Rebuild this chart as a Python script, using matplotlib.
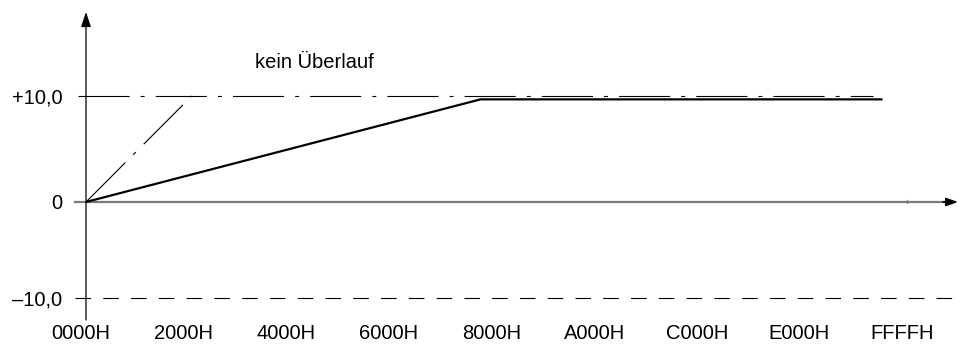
import numpy as np
import matplotlib.pyplot as plt
import matplotlib.transforms as mtransforms

plt.rcParams['font.family'] = ['Liberation Sans', 'DejaVu Sans']

# Daten
x_ticks = [0x0000, 0x2000, 0x4000, 0x6000, 0x8000, 0xA000, 0xC000, 0xE000, 0xFFFF]
x_tick_labels = ['0000H', '2000H', '4000H', '6000H', '8000H',
                 'A000H', 'C000H', 'E000H', 'FFFFH']
y_ticks = [-10, 0, 10]
y_tick_labels = ['\u201310,0', '0', '+10,0']

# Kennlinie ohne Ueberlauf (durchgezogen)
solid_x = [0x0000, 0x7B00, 0xF800]
solid_y = [0.0, 9.68, 9.68]
# steile Kennlinie (strichpunktiert)
steep_x = [0x0000, 0x2100]
steep_y = [0.0, 10.0]
# Grenzlinien
upper_x = [-650, 0xF580]
upper_y = [10.0, 10.0]
lower_x = [-900, 0x10F00]
lower_y = [-10.0, -10.0]

x_min, x_max = 0, 69600
y_min, y_max = -12.29, 17.92

# negative Seite ist im Bild gestaucht
k_neg = 96 / 106


def fwd(y):
    y = np.asarray(y, dtype=float)
    return np.where(y < 0, y * k_neg, y)


def inv(v):
    v = np.asarray(v, dtype=float)
    return np.where(v < 0, v / k_neg, v)


fig = plt.figure(figsize=(9.59, 3.54), dpi=100)
ax = fig.add_axes([86 / 959, 34 / 354, (958 - 86) / 959, (320 - 12) / 354])
ax.set_yscale('function', functions=(fwd, inv))
ax.set_xlim(x_min, x_max)
ax.set_ylim(y_min, y_max)
for s in ax.spines.values():
    s.set_visible(False)

# Achsen
ax.plot([-850, x_max - 900], [0, 0], color='#7a7a7a', lw=1.6, clip_on=False)
ax.annotate('', xy=(x_max, 0), xytext=(x_max - 1200, 0),
            arrowprops=dict(arrowstyle='-|>,head_length=0.7,head_width=0.25',
                            color='black', lw=1.2, shrinkA=0, shrinkB=0),
            annotation_clip=False)
ax.annotate('', xy=(0, y_max), xytext=(0, y_min),
            arrowprops=dict(arrowstyle='-|>,head_length=0.9,head_width=0.3',
                            color='black', lw=0.9, shrinkA=0, shrinkB=0),
            annotation_clip=False)
ax.plot([0xFFFF, 0xFFFF], [-0.15, 0.15], color='#808080', lw=0.8)

# Linien
ax.plot(lower_x, lower_y, color='black', lw=0.8, dashes=(14, 11), clip_on=False)
ax.plot(upper_x, upper_y, color='black', lw=0.8, dashes=(46, 10, 3.5, 10), clip_on=False)
ax.plot(steep_x, steep_y, color='black', lw=0.8, dashes=(50, 10, 3.5, 10))
ax.plot(solid_x, solid_y, color='black', lw=1.6, solid_joinstyle='miter')

ax.text(13500, 13.2, 'kein Überlauf', fontsize=14.5, ha='left', va='center')

# Beschriftung
ax.set_xticks(x_ticks)
ax.set_xticklabels(x_tick_labels, fontsize=14.5)
ax.set_yticks(y_ticks)
ax.set_yticklabels(y_tick_labels, fontsize=14.5)
ax.minorticks_off()
ax.tick_params(axis='x', length=0, pad=3)
ax.tick_params(axis='y', length=0, pad=17)
shift = mtransforms.ScaledTranslation(-5 / 100, 0, fig.dpi_scale_trans)
for lab in ax.get_xticklabels():
    lab.set_transform(lab.get_transform() + shift)

fig.savefig('out.png', dpi=100)
